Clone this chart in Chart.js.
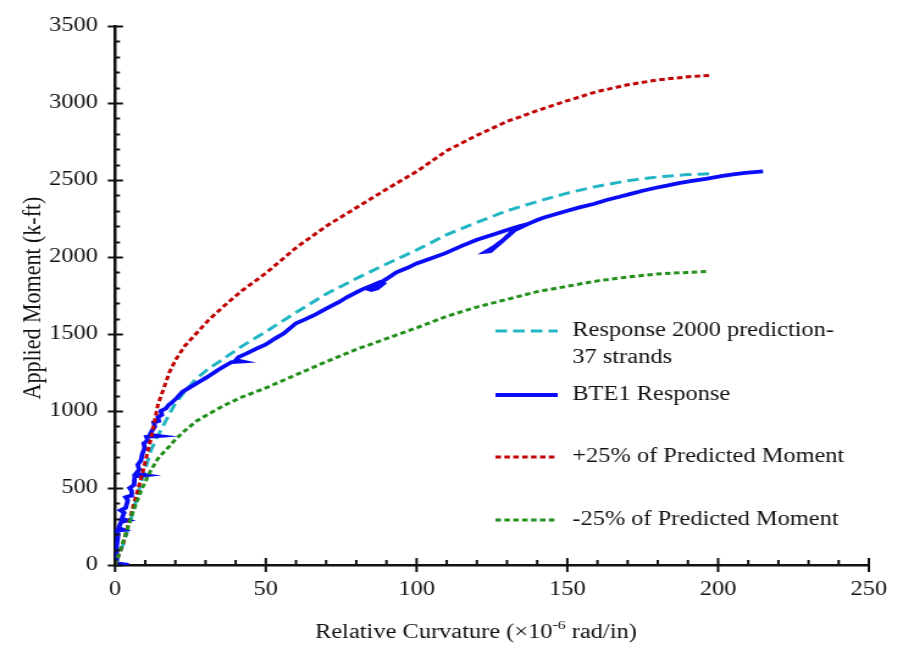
<!DOCTYPE html>
<html>
<head>
<meta charset="utf-8">
<script src="https://cdn.jsdelivr.net/npm/chart.js@4"></script>
<style>
  html, body { margin: 0; padding: 0; background: #fff; }
</style>
</head>
<body>
<!-- the figure is drawn narrow and widened by CSS, like the resized original -->
<canvas id="chart" width="740" height="651" style="display:block;width:903px;height:651px"></canvas>
<script>
// Axis ticks
const xTicks = [0, 50, 100, 150, 200, 250];
const yTicks = [0, 500, 1000, 1500, 2000, 2500, 3000, 3500];
const xMinorStep = 10;
const yMinorStep = 100;

// Predicted curves share one set of curvature values
const curveX = [0, 3, 6, 9, 12, 14.2, 16, 18, 20, 23, 27, 31, 36, 42, 50, 60, 70, 80, 90, 100,
                110, 120, 130, 140, 150, 160, 170, 180, 190, 197];
const predictedY = [0, 150, 350, 560, 750, 840, 905, 980, 1050, 1125, 1210, 1275, 1340, 1420, 1515, 1640, 1760, 1860, 1955, 2045,
                    2145, 2225, 2300, 2360, 2415, 2460, 2495, 2520, 2535, 2541];
const upperY = [0, 160, 380, 590, 830, 1040, 1140, 1250, 1330, 1420, 1505, 1590, 1680, 1780, 1895, 2060, 2200, 2320, 2440, 2555,
                2690, 2790, 2880, 2950, 3015, 3075, 3118, 3150, 3170, 3179];
const lowerY = [0, 170, 350, 500, 620, 690, 730, 770, 815, 870, 935, 980, 1035, 1090, 1150, 1235, 1320, 1400, 1470, 1540,
                1615, 1675, 1725, 1775, 1810, 1845, 1870, 1890, 1900, 1906];

// Measured BTE1 response (curvature, moment)
const bteX = [0, 4.5, 0.3, 0.5, 1.0, 0.5, 2.8, 1.2, 2.0, 4.2, 2.2, 3.0, 1.8, 3.5, 4.2, 3.5, 5.2, 5.5, 4.8, 6.3,
              6.5, 10.2, 6.8, 8.0, 7.5, 8.6, 9.0, 9.8, 9.5, 10.8, 10.4, 14.5, 11.5, 12.5, 13.2, 12.8, 14.5, 14.2, 15.5, 15.2,
              16.9, 17.8, 19.1, 20.5, 22.3, 24.5, 27.8, 30.5, 34.4, 37.5, 38.7, 42.0, 40.0, 40.9, 43.5, 46.9, 50, 53, 56, 60,
              63, 66, 70, 74, 77, 80, 82, 86, 88, 89, 87, 85, 84, 86, 89, 91, 93.3, 97, 100, 104.7,
              109.6, 115, 120, 126, 130, 134, 137, 136, 132, 129, 126, 123, 124.5, 127, 130, 133, 137, 140, 142.3, 146,
              150, 154, 158.7, 163, 167, 171, 175, 179, 183, 187, 191.4, 196, 201, 205, 209, 214.9];
const bteY = [0, 0, 10, 120, 200, 222, 228, 240, 280, 290, 300, 340, 355, 370, 420, 440, 450, 480, 500, 520,
              575, 583, 592, 620, 650, 680, 720, 760, 790, 810, 832, 838, 845, 880, 900, 925, 935, 960, 975, 1000,
              1017, 1040, 1060, 1085, 1124, 1150, 1188, 1220, 1270, 1305, 1318, 1322, 1330, 1350, 1372, 1405, 1432, 1470, 1505, 1570,
              1595, 1622, 1665, 1705, 1740, 1770, 1790, 1822, 1838, 1828, 1796, 1786, 1792, 1812, 1845, 1870, 1900, 1930, 1958, 1991,
              2025, 2072, 2112, 2150, 2176, 2200, 2215, 2205, 2170, 2115, 2070, 2035, 2038, 2080, 2130, 2182, 2215, 2240, 2256, 2278,
              2300, 2322, 2344, 2370, 2390, 2410, 2430, 2448, 2463, 2480, 2494, 2508, 2525, 2536, 2546, 2556];

const FONT = "'Liberation Serif', 'Times New Roman', serif";
const pts = (xs, ys) => xs.map((x, i) => ({ x: x, y: ys[i] }));

const series = [
  { label: 'Response 2000 prediction-\n37 strands', data: pts(curveX, predictedY),
    color: '#22B6C4', width: 3, dash: [9.5, 5], order: 4 },
  { label: 'BTE1 Response', data: pts(bteX, bteY),
    color: '#0A0CF8', width: 3.8, dash: [], order: 3 },
  { label: '+25% of Predicted Moment', data: pts(curveX, upperY),
    color: '#C00000', width: 3, dash: [4.5, 2.8], order: 2 },
  { label: '-25% of Predicted Moment', data: pts(curveX, lowerY),
    color: '#22901A', width: 3, dash: [4.5, 2.8], order: 1 }
];

// legend rows: y of the sample line
const legendRows = [331, 395, 457, 520];

const decor = {
  id: 'decor',
  afterDraw(chart) {
    const { ctx, chartArea: a, scales: { x, y } } = chart;
    ctx.save();
    ctx.strokeStyle = '#111';
    ctx.lineWidth = 2;
    ctx.beginPath();
    // y ticks: majors cross the axis, minors point inward
    for (let v = 0; v <= 3500; v += yMinorStep) {
      const py = Math.round(y.getPixelForValue(v)) + 0.5;
      const major = yTicks.includes(v);
      ctx.moveTo(a.left - (major ? 6 : 0), py);
      ctx.lineTo(a.left + (major ? 6.5 : 4), py);
    }
    for (let v = 0; v <= 250; v += xMinorStep) {
      const px = x.getPixelForValue(v);
      const major = xTicks.includes(v);
      ctx.moveTo(px, a.bottom + (major ? 7 : 0));
      ctx.lineTo(px, a.bottom - (major ? 7 : 5));
    }
    ctx.stroke();

    // legend
    ctx.fillStyle = '#111';
    ctx.font = '20px ' + FONT;
    ctx.textBaseline = 'middle';
    series.forEach((s, i) => {
      const ly = legendRows[i];
      ctx.strokeStyle = s.color;
      ctx.lineWidth = s.width;
      ctx.setLineDash(s.dash);
      ctx.beginPath();
      ctx.moveTo(406, ly);
      ctx.lineTo(457, ly);
      ctx.stroke();
      ctx.setLineDash([]);
      s.label.split('\n').forEach((t, k) => ctx.fillText(t, 469, ly + k * 27));
    });

    // axis titles
    ctx.font = '22px ' + FONT;
    ctx.textAlign = 'center';
    ctx.save();
    ctx.translate(27, 298);
    ctx.rotate(-Math.PI / 2);
    ctx.fillText('Applied Moment (k-ft)', 0, 0);
    ctx.restore();

    const partA = 'Relative Curvature (\u00d710', sup = '-6', partB = ' rad/in)';
    ctx.textAlign = 'left';
    ctx.font = '20px ' + FONT;
    const wA = ctx.measureText(partA).width, wB = ctx.measureText(partB).width;
    ctx.font = '13px ' + FONT;
    const wS = ctx.measureText(sup).width;
    let tx = 390 - (wA + wS + wB) / 2;
    const ty = 633;
    ctx.font = '20px ' + FONT;
    ctx.fillText(partA, tx, ty);
    ctx.font = '13px ' + FONT;
    ctx.fillText(sup, tx + wA, ty - 7);
    ctx.font = '20px ' + FONT;
    ctx.fillText(partB, tx + wA + wS, ty);
    ctx.restore();
  }
};

new Chart(document.getElementById('chart'), {
  type: 'line',
  data: {
    datasets: series.map(s => ({
      label: s.label,
      data: s.data,
      borderColor: s.color,
      borderWidth: s.width,
      borderDash: s.dash,
      order: s.order,
      pointRadius: 0,
      tension: 0,
      fill: false
    }))
  },
  options: {
    responsive: false,
    animation: false,
    layout: { padding: { left: 0, right: 19.7, top: 20, bottom: 0 } },
    plugins: { legend: { display: false }, tooltip: { enabled: false } },
    scales: {
      x: {
        type: 'linear', min: 0, max: 250,
        afterFit: s => { s.height = 86; },
        afterBuildTicks: s => { s.ticks = xTicks.map(v => ({ value: v })); },
        grid: { display: false, drawTicks: false },
        border: { display: true, color: '#111', width: 2.5 },
        ticks: { color: '#111', padding: 13, font: { family: FONT, size: 20 }, callback: v => String(v) }
      },
      y: {
        type: 'linear', min: 0, max: 3500,
        afterFit: s => { s.width = 94.3; },
        afterBuildTicks: s => { s.ticks = yTicks.map(v => ({ value: v })); },
        grid: { display: false, drawTicks: false },
        border: { display: true, color: '#111', width: 2.5 },
        ticks: { color: '#111', padding: 14, font: { family: FONT, size: 20 }, callback: v => String(v) }
      }
    }
  },
  plugins: [decor]
});
</script>
</body>
</html>
